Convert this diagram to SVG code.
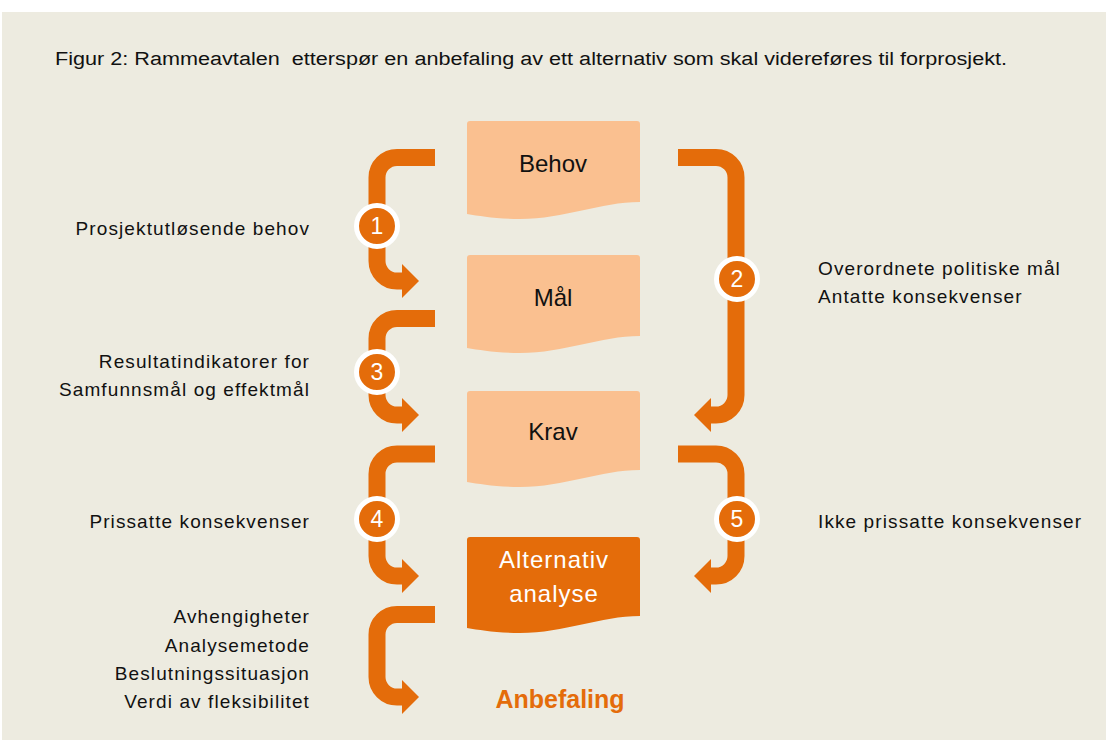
<svg xmlns="http://www.w3.org/2000/svg" width="1106" height="740" viewBox="0 0 1106 740">
<defs>
<style>
.bg{fill:#EDEBE0}
.box{fill:#FAC090}
.boxd{fill:#E46C0A}
.conn{fill:none;stroke:#E46C0A;stroke-width:17}
.head{fill:#E46C0A}
.badge{fill:#E46C0A;stroke:#FFFFFF;stroke-width:5}
.num{font-family:"Liberation Sans",Arial,sans-serif;font-size:23px;fill:#FFFFFF;text-anchor:middle}
.lbl{font-family:"Liberation Sans",Arial,sans-serif;font-size:19px;letter-spacing:1.1px;fill:#111111}
.lr{text-anchor:end}
.nt{font-family:"Liberation Sans",Arial,sans-serif;font-size:24px;fill:#111111;text-anchor:middle}
.ntw{font-family:"Liberation Sans",Arial,sans-serif;font-size:24px;letter-spacing:1px;fill:#FFFFFF;text-anchor:middle}
.title{font-family:"Liberation Sans",Arial,sans-serif;font-size:18px;fill:#111111}
.rec{font-family:"Liberation Sans",Arial,sans-serif;font-size:25px;font-weight:bold;fill:#E46C0A;text-anchor:middle}
</style>
</defs>
<rect class="bg" x="2" y="12" width="1104" height="728"/>
<text class="title" x="55" y="65" xml:space="preserve" textLength="952" lengthAdjust="spacingAndGlyphs">Figur 2: Rammeavtalen  etterspør en anbefaling av ett alternativ som skal videreføres til forprosjekt.</text>

<g id="connectors">
<path class="conn" d="M435,157.5 H397 A20,20 0 0 0 377,177.5 V261 A20,20 0 0 0 397,281 H404"/>
<polygon class="head" points="402,264 419,281 402,298"/>
<path class="conn" d="M678,157.5 H716 A20,20 0 0 1 736,177.5 V395 A20,20 0 0 1 716,415 H709"/>
<polygon class="head" points="711,398 694,415 711,432"/>
<path class="conn" d="M435,318.5 H397 A20,20 0 0 0 377,338.5 V395 A20,20 0 0 0 397,415 H404"/>
<polygon class="head" points="402,398 419,415 402,432"/>
<path class="conn" d="M435,454 H397 A20,20 0 0 0 377,474 V556 A20,20 0 0 0 397,576 H404"/>
<polygon class="head" points="402,559 419,576 402,593"/>
<path class="conn" d="M678,454 H716 A20,20 0 0 1 736,474 V556 A20,20 0 0 1 716,576 H709"/>
<polygon class="head" points="711,559 694,576 711,593"/>
<path class="conn" d="M435,614.5 H397 A20,20 0 0 0 377,634.5 V677 A20,20 0 0 0 397,697 H404"/>
<polygon class="head" points="402,680 419,697 402,714"/>
<circle class="badge" cx="377" cy="226" r="20.5"/>
<text class="num" x="377" y="234">1</text>
<circle class="badge" cx="737" cy="279" r="20.5"/>
<text class="num" x="737" y="287">2</text>
<circle class="badge" cx="377" cy="372" r="20.5"/>
<text class="num" x="377" y="380">3</text>
<circle class="badge" cx="377" cy="519" r="20.5"/>
<text class="num" x="377" y="527">4</text>
<circle class="badge" cx="737" cy="519" r="20.5"/>
<text class="num" x="737" y="527">5</text>
</g>

<g id="behov">
<path class="box" d="M470,121 H637 Q640,121 640,124 V202 C600,202 565,219 520,219 C495,219 480,216 467,214 V124 Q467,121 470,121 Z"/>
<text class="nt" x="553" y="172">Behov</text>
</g>
<g id="maal">
<path class="box" d="M470,255 H637 Q640,255 640,258 V336 C600,336 565,353 520,353 C495,353 480,350 467,348 V258 Q467,255 470,255 Z"/>
<text class="nt" x="553" y="306">Mål</text>
</g>
<g id="krav">
<path class="box" d="M470,391 H637 Q640,391 640,394 V470 C600,470 565,487 520,487 C495,487 480,484 467,482 V394 Q467,391 470,391 Z"/>
<text class="nt" x="553" y="440">Krav</text>
</g>
<g id="alternativ">
<path class="boxd" d="M470,537 H637 Q640,537 640,540 V616 C600,616 565,633 520,633 C495,633 480,630 467,628 V540 Q467,537 470,537 Z"/>
<text class="ntw" x="554" y="568">Alternativ</text>
<text class="ntw" x="554" y="602">analyse</text>
</g>
<g id="anbefaling">
<text class="rec" x="560" y="708">Anbefaling</text>
</g>

<g id="labels">
<text class="lbl lr" x="310" y="235">Prosjektutløsende behov</text>
<text class="lbl lr" x="310" y="368">Resultatindikatorer for</text>
<text class="lbl lr" x="310" y="396">Samfunnsmål og effektmål</text>
<text class="lbl lr" x="310" y="528">Prissatte konsekvenser</text>
<text class="lbl lr" x="310" y="623">Avhengigheter</text>
<text class="lbl lr" x="310" y="652">Analysemetode</text>
<text class="lbl lr" x="310" y="680">Beslutningssituasjon</text>
<text class="lbl lr" x="310" y="708">Verdi av fleksibilitet</text>
<text class="lbl" x="818" y="275">Overordnete politiske mål</text>
<text class="lbl" x="818" y="303">Antatte konsekvenser</text>
<text class="lbl" x="818" y="528">Ikke prissatte konsekvenser</text>
</g>
</svg>
